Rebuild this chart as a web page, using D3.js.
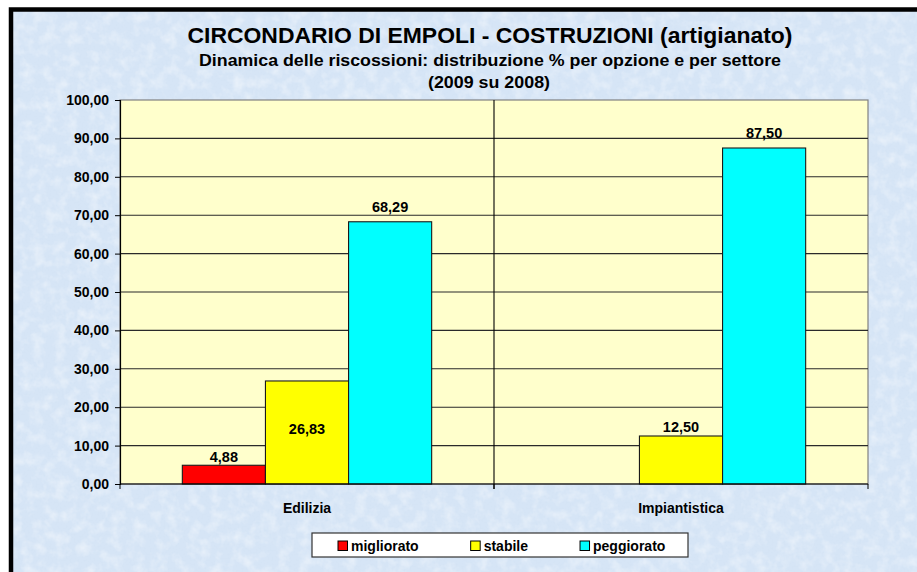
<!DOCTYPE html>
<html lang="it">
<head>
<meta charset="utf-8">
<title>Circondario di Empoli - Costruzioni</title>
<style>
  body { margin: 0; background: #fff; }
  svg { display: block; font-family: "Liberation Sans", Arial, sans-serif; }
</style>
</head>
<body>
<svg width="917" height="572"></svg>
<script src="https://cdn.jsdelivr.net/npm/d3@7/dist/d3.min.js"></script>
<script>
// dati
var settori = ["Edilizia", "Impiantistica"];
var opzioni = ["migliorato", "stabile", "peggiorato"];
var migliorato = [4.88, null];
var stabile = [26.83, 12.50];
var peggiorato = [68.29, 87.50];
var yTicks = [0, 10, 20, 30, 40, 50, 60, 70, 80, 90, 100];
var colori = ["#ff0000", "#ffff00", "#00ffff"];

var titolo = "CIRCONDARIO DI EMPOLI - COSTRUZIONI (artigianato)";
var sottotitolo = ["Dinamica delle riscossioni: distribuzione % per opzione e per settore", "(2009 su 2008)"];

var valori = [migliorato, stabile, peggiorato];
var fmt = function(v) { return d3.format(".2f")(v).replace(".", ","); };

var svg = d3.select("svg");
var defs = svg.append("defs");

// texture azzurra dello sfondo
var f = defs.append("filter").attr("id", "tex").attr("x", 0).attr("y", 0).attr("width", 1).attr("height", 1);
f.append("feTurbulence").attr("type", "fractalNoise").attr("baseFrequency", "0.09").attr("numOctaves", 3).attr("seed", 3).attr("result", "n");
f.append("feColorMatrix").attr("in", "n").attr("type", "matrix")
  .attr("values", "0 0 0 0 1  0 0 0 0 1  0 0 0 0 1  0.9 0 0 0 -0.38");
var f2 = defs.append("filter").attr("id", "tex2").attr("x", 0).attr("y", 0).attr("width", 1).attr("height", 1);
f2.append("feTurbulence").attr("type", "fractalNoise").attr("baseFrequency", "0.5").attr("numOctaves", 2).attr("seed", 7).attr("result", "n");
f2.append("feColorMatrix").attr("in", "n").attr("type", "matrix")
  .attr("values", "0 0 0 0 0.62  0 0 0 0 0.74  0 0 0 0 0.88  0 0.8 0 0 -0.38");

var bg = [11, 9.5, 920, 600];
svg.append("rect").attr("x", bg[0]).attr("y", bg[1]).attr("width", bg[2]).attr("height", bg[3])
  .attr("fill", "#d6e5f6");
svg.append("rect").attr("x", bg[0]).attr("y", bg[1]).attr("width", bg[2]).attr("height", bg[3])
  .attr("filter", "url(#tex2)");
svg.append("rect").attr("x", bg[0]).attr("y", bg[1]).attr("width", bg[2]).attr("height", bg[3])
  .attr("filter", "url(#tex)");
svg.append("rect").attr("x", bg[0]).attr("y", bg[1]).attr("width", bg[2]).attr("height", bg[3])
  .attr("fill", "none").attr("stroke", "#000").attr("stroke-width", 4.5);

// titoli
svg.append("text").attr("x", 490).attr("y", 43).attr("text-anchor", "middle")
  .attr("font-size", 22).attr("font-weight", "bold")
  .attr("textLength", 605).attr("lengthAdjust", "spacingAndGlyphs").text(titolo);
svg.append("text").attr("x", 490).attr("y", 66).attr("text-anchor", "middle")
  .attr("font-size", 16.5).attr("font-weight", "bold")
  .attr("textLength", 582).attr("lengthAdjust", "spacingAndGlyphs").text(sottotitolo[0]);
svg.append("text").attr("x", 489).attr("y", 88).attr("text-anchor", "middle")
  .attr("font-size", 16.5).attr("font-weight", "bold")
  .attr("textLength", 122).attr("lengthAdjust", "spacingAndGlyphs").text(sottotitolo[1]);

var pLeft = 120, pRight = 868, pTop = 100, pBottom = 484;

var x0 = d3.scaleBand().domain(settori).range([pLeft, pRight]).padding(0);
var x1 = d3.scaleBand().domain(opzioni).range([0, x0.bandwidth()]).paddingInner(0).paddingOuter(0.75);
var y = d3.scaleLinear().domain([0, 100]).range([pBottom, pTop]);

// area del grafico
svg.append("rect").attr("x", pLeft).attr("y", pTop).attr("width", pRight - pLeft).attr("height", pBottom - pTop)
  .attr("fill", "#ffffcc").attr("stroke", "#808080").attr("stroke-width", 1.2);

// griglia orizzontale
svg.append("g").selectAll("line").data(yTicks.filter(function(d) { return d > 0 && d < 100; }))
  .enter().append("line")
  .attr("x1", pLeft).attr("x2", pRight)
  .attr("y1", function(d) { return y(d); }).attr("y2", function(d) { return y(d); })
  .attr("stroke", "#2a2a2a").attr("stroke-width", 1.1);

// divisore tra i settori
svg.append("line").attr("x1", x0("Impiantistica")).attr("x2", x0("Impiantistica"))
  .attr("y1", pTop).attr("y2", pBottom + 5).attr("stroke", "#000").attr("stroke-width", 1.1);

// asse y
var yAxis = svg.append("g").attr("transform", "translate(" + pLeft + ",0)")
  .call(d3.axisLeft(y).tickValues(yTicks).tickSize(5).tickPadding(6).tickFormat(fmt));
yAxis.select(".domain").attr("stroke", "#000").attr("stroke-width", 1.2);
yAxis.selectAll(".tick line").attr("stroke", "#000");
yAxis.selectAll("text").attr("font-size", 14).attr("font-weight", "bold").attr("fill", "#000")
  .attr("font-family", "'Liberation Sans', Arial, sans-serif");

// barre
var gruppi = svg.append("g").selectAll("g").data(settori).enter().append("g")
  .attr("transform", function(d) { return "translate(" + x0(d) + ",0)"; });

var barre = gruppi.selectAll("g").data(function(d, i) {
    return opzioni.map(function(o, j) { return {opz: o, j: j, v: valori[j][i], set: d}; })
      .filter(function(e) { return e.v != null; });
  }).enter().append("g");

barre.append("rect")
  .attr("x", function(d) { return x1(d.opz); })
  .attr("y", function(d) { return y(d.v); })
  .attr("width", x1.bandwidth())
  .attr("height", function(d) { return y(0) - y(d.v); })
  .attr("fill", function(d) { return colori[d.j]; })
  .attr("stroke", "#1a1a1a").attr("stroke-width", 1.1);

// etichette dei valori
var distanza = {migliorato: 3, stabile: 4, peggiorato: 10};
barre.append("text")
  .attr("x", function(d) { return x1(d.opz) + x1.bandwidth() / 2; })
  .attr("y", function(d) {
    // 26,83 in Edilizia sta dentro la barra
    if (d.set === "Edilizia" && d.opz === "stabile") return (y(d.v) + y(0)) / 2 + 2;
    return y(d.v) - distanza[d.opz];
  })
  .attr("text-anchor", "middle").attr("font-size", 14.5).attr("font-weight", "bold")
  .text(function(d) { return fmt(d.v); });

// asse x
svg.append("line").attr("x1", pLeft).attr("x2", pRight).attr("y1", pBottom).attr("y2", pBottom)
  .attr("stroke", "#000").attr("stroke-width", 1.2);
svg.append("g").selectAll("line").data([pLeft, x0("Impiantistica"), pRight]).enter().append("line")
  .attr("x1", function(d) { return d; }).attr("x2", function(d) { return d; })
  .attr("y1", pBottom).attr("y2", pBottom + 5).attr("stroke", "#000");
svg.append("g").selectAll("text").data(settori).enter().append("text")
  .attr("x", function(d) { return x0(d) + x0.bandwidth() / 2; })
  .attr("y", 513).attr("text-anchor", "middle")
  .attr("font-size", 14).attr("font-weight", "bold").text(function(d) { return d; });

// legenda
var leg = svg.append("g");
leg.append("rect").attr("x", 312).attr("y", 533).attr("width", 376).attr("height", 24)
  .attr("fill", "#fff").attr("stroke", "#333").attr("stroke-width", 1.2);
var lx = 338;
opzioni.forEach(function(o, j) {
  leg.append("rect").attr("x", lx).attr("y", 541).attr("width", 9.5).attr("height", 9.5)
    .attr("fill", colori[j]).attr("stroke", "#000").attr("stroke-width", 1);
  var t = leg.append("text").attr("x", lx + 13).attr("y", 551)
    .attr("font-size", 14).attr("font-weight", "bold").text(o);
  lx += 13 + t.node().getComputedTextLength() + 52;
});
</script>
</body>
</html>
